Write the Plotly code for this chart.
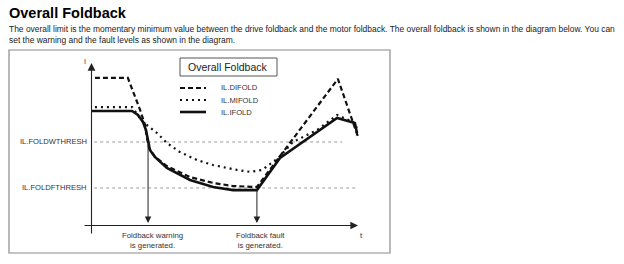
import plotly.graph_objects as go

# ---- data (t and I in percent of the drawn axes) ----
t_difold = [1.3, 13.7, 18.3, 20.2, 20.9, 21.7, 23.9, 28.4, 37.1, 45.8, 53.3, 62.3, 92.8, 100.4]
i_difold = [90.8, 90.8, 71.1, 61.8, 53.8, 47.7, 42.2, 36.6, 29.8, 26.2, 24.3, 23.7, 90.2, 54.5]

t_mifold = [1.3, 15.3, 19.0, 20.9, 24.7, 28.4, 33.3, 39.7, 45.8, 54.8, 59.7, 64.3, 70.3, 75.9, 85.0, 92.5, 98.5, 100.0]
i_mifold = [72.9, 72.9, 64.3, 61.8, 56.9, 50.8, 45.2, 40.3, 37.2, 34.2, 33.0, 34.2, 41.5, 51.4, 58.8, 68.0, 63.7, 60.0]

t_ifold = [0.2, 15.3, 17.5, 19.4, 20.5, 21.3, 22.0, 23.9, 28.4, 37.1, 45.8, 53.3, 62.3, 71.0, 92.5, 99.2, 100.0]
i_ifold = [70.5, 70.5, 68.0, 63.7, 58.8, 50.8, 46.5, 42.2, 35.4, 28.0, 23.7, 21.8, 21.8, 41.5, 66.2, 63.1, 56.9]

thresh_names = ["IL.FOLDWTHRESH", "IL.FOLDFTHRESH"]
thresh_values = [51.4, 23.1]
thresh_ends = [94.4, 100.4]

event_times = [21.3, 62.3]
event_labels = ["Foldback warning<br>is generated.", "Foldback fault<br>is generated."]

series_names = ["IL.DIFOLD", "IL.MIFOLD", "IL.IFOLD"]

W, H = 624, 264
FONT = "Liberation Sans, Arial, sans-serif"

def px(x):
    return x / W

def py(y):
    return 1 - y / H

fig = go.Figure()

styles = [dict(dash="5px,3px", width=2.2), dict(dash="2px,4px", width=2.2), dict(dash="solid", width=2.6)]
for name, tx, iy, st in zip(series_names, [t_difold, t_mifold, t_ifold],
                            [i_difold, i_mifold, i_ifold], styles):
    fig.add_trace(go.Scatter(x=tx, y=iy, mode="lines", name=name,
                             line=dict(color="#111", width=st["width"], dash=st["dash"]),
                             showlegend=False, hoverinfo="skip"))

shapes = []
annotations = []

# threshold lines and labels
for name, v, e in zip(thresh_names, thresh_values, thresh_ends):
    shapes.append(dict(type="line", xref="x", yref="y", x0=1.0, x1=e, y0=v, y1=v,
                       line=dict(color="#9a9a9a", width=1, dash="dot"), layer="below"))
    annotations.append(dict(x=-0.9, y=v, xref="x", yref="y", text=name, showarrow=False,
                            xanchor="right", yanchor="middle",
                            font=dict(family=FONT, size=7.6, color="#333")))

# event arrows and labels
for t, lab, v in zip(event_times, event_labels, thresh_values):
    annotations.append(dict(x=t, y=1.5, ax=t, ay=v, xref="x", yref="y", axref="x", ayref="y",
                            showarrow=True, arrowhead=2, arrowsize=1.3, arrowwidth=1,
                            arrowcolor="#222", text=""))
    annotations.append(dict(x=t + 1.5, y=-9.5, xref="x", yref="y", text=lab, showarrow=False,
                            xanchor="center", yanchor="middle", align="center",
                            font=dict(family=FONT, size=7.8, color="#333")))

# axes with arrows
annotations.append(dict(x=0, y=100, ax=0, ay=-5.8, xref="x", yref="y", axref="x", ayref="y",
                        showarrow=True, arrowhead=2, arrowsize=1.4, arrowwidth=1.1,
                        arrowcolor="#222", text=""))
annotations.append(dict(x=100.4, y=0, ax=-3.2, ay=0, xref="x", yref="y", axref="x", ayref="y",
                        showarrow=True, arrowhead=2, arrowsize=1.4, arrowwidth=1.1,
                        arrowcolor="#222", text=""))
annotations.append(dict(x=-2.5, y=101, xref="x", yref="y", text="I", showarrow=False,
                        xanchor="center", yanchor="middle",
                        font=dict(family=FONT, size=7, color="#333")))
annotations.append(dict(x=101.8, y=-6, xref="x", yref="y", text="t", showarrow=False,
                        xanchor="center", yanchor="middle",
                        font=dict(family=FONT, size=8, color="#333")))

# frame around diagram
shapes.append(dict(type="rect", xref="paper", yref="paper", x0=px(9), x1=px(390),
                   y0=py(253), y1=py(50), line=dict(color="#8a8a8a", width=1.2)))

# legend title box
shapes.append(dict(type="rect", xref="paper", yref="paper", x0=px(180), x1=px(277),
                   y0=py(76), y1=py(58), line=dict(color="#555", width=1)))
annotations.append(dict(x=px(228.5), y=py(67), xref="paper", yref="paper",
                        text="Overall Foldback", showarrow=False,
                        xanchor="center", yanchor="middle",
                        font=dict(family=FONT, size=10.5, color="#222")))
leg_y = [88, 100, 112]
for name, st, yy in zip(series_names, styles, leg_y):
    shapes.append(dict(type="line", xref="paper", yref="paper", x0=px(180), x1=px(206),
                       y0=py(yy), y1=py(yy),
                       line=dict(color="#111", width=st["width"], dash=st["dash"])))
    annotations.append(dict(x=px(219), y=py(yy), xref="paper", yref="paper", text=name,
                            showarrow=False, xanchor="left", yanchor="middle",
                            font=dict(family=FONT, size=7.6, color="#333")))

# page heading and paragraph
annotations.append(dict(x=px(7), y=py(13), xref="paper", yref="paper",
                        text="<b>Overall Foldback</b>", showarrow=False,
                        xanchor="left", yanchor="middle",
                        font=dict(family=FONT, size=14.5, color="#000")))
para = ["The overall limit is the momentary minimum value between the drive foldback and the motor foldback. The overall foldback is shown in the diagram below. You can",
        "set the warning and the fault levels as shown in the diagram."]
for line, yy in zip(para, [29, 40]):
    annotations.append(dict(x=px(7), y=py(yy), xref="paper", yref="paper", text=line,
                            showarrow=False, xanchor="left", yanchor="middle",
                            font=dict(family=FONT, size=8.45, color="#222")))

x_range = [(0 - 91.5) / 2.655, (W - 91.5) / 2.655]
y_range = [(225.5 - H) / 1.625, 225.5 / 1.625]

fig.update_layout(
    width=W, height=H, margin=dict(l=0, r=0, t=0, b=0),
    paper_bgcolor="white", plot_bgcolor="white",
    xaxis=dict(range=x_range, visible=False, fixedrange=True),
    yaxis=dict(range=y_range, visible=False, fixedrange=True),
    shapes=shapes, annotations=annotations, showlegend=False,
)

fig.write_html("out.html", config=dict(displayModeBar=False))
